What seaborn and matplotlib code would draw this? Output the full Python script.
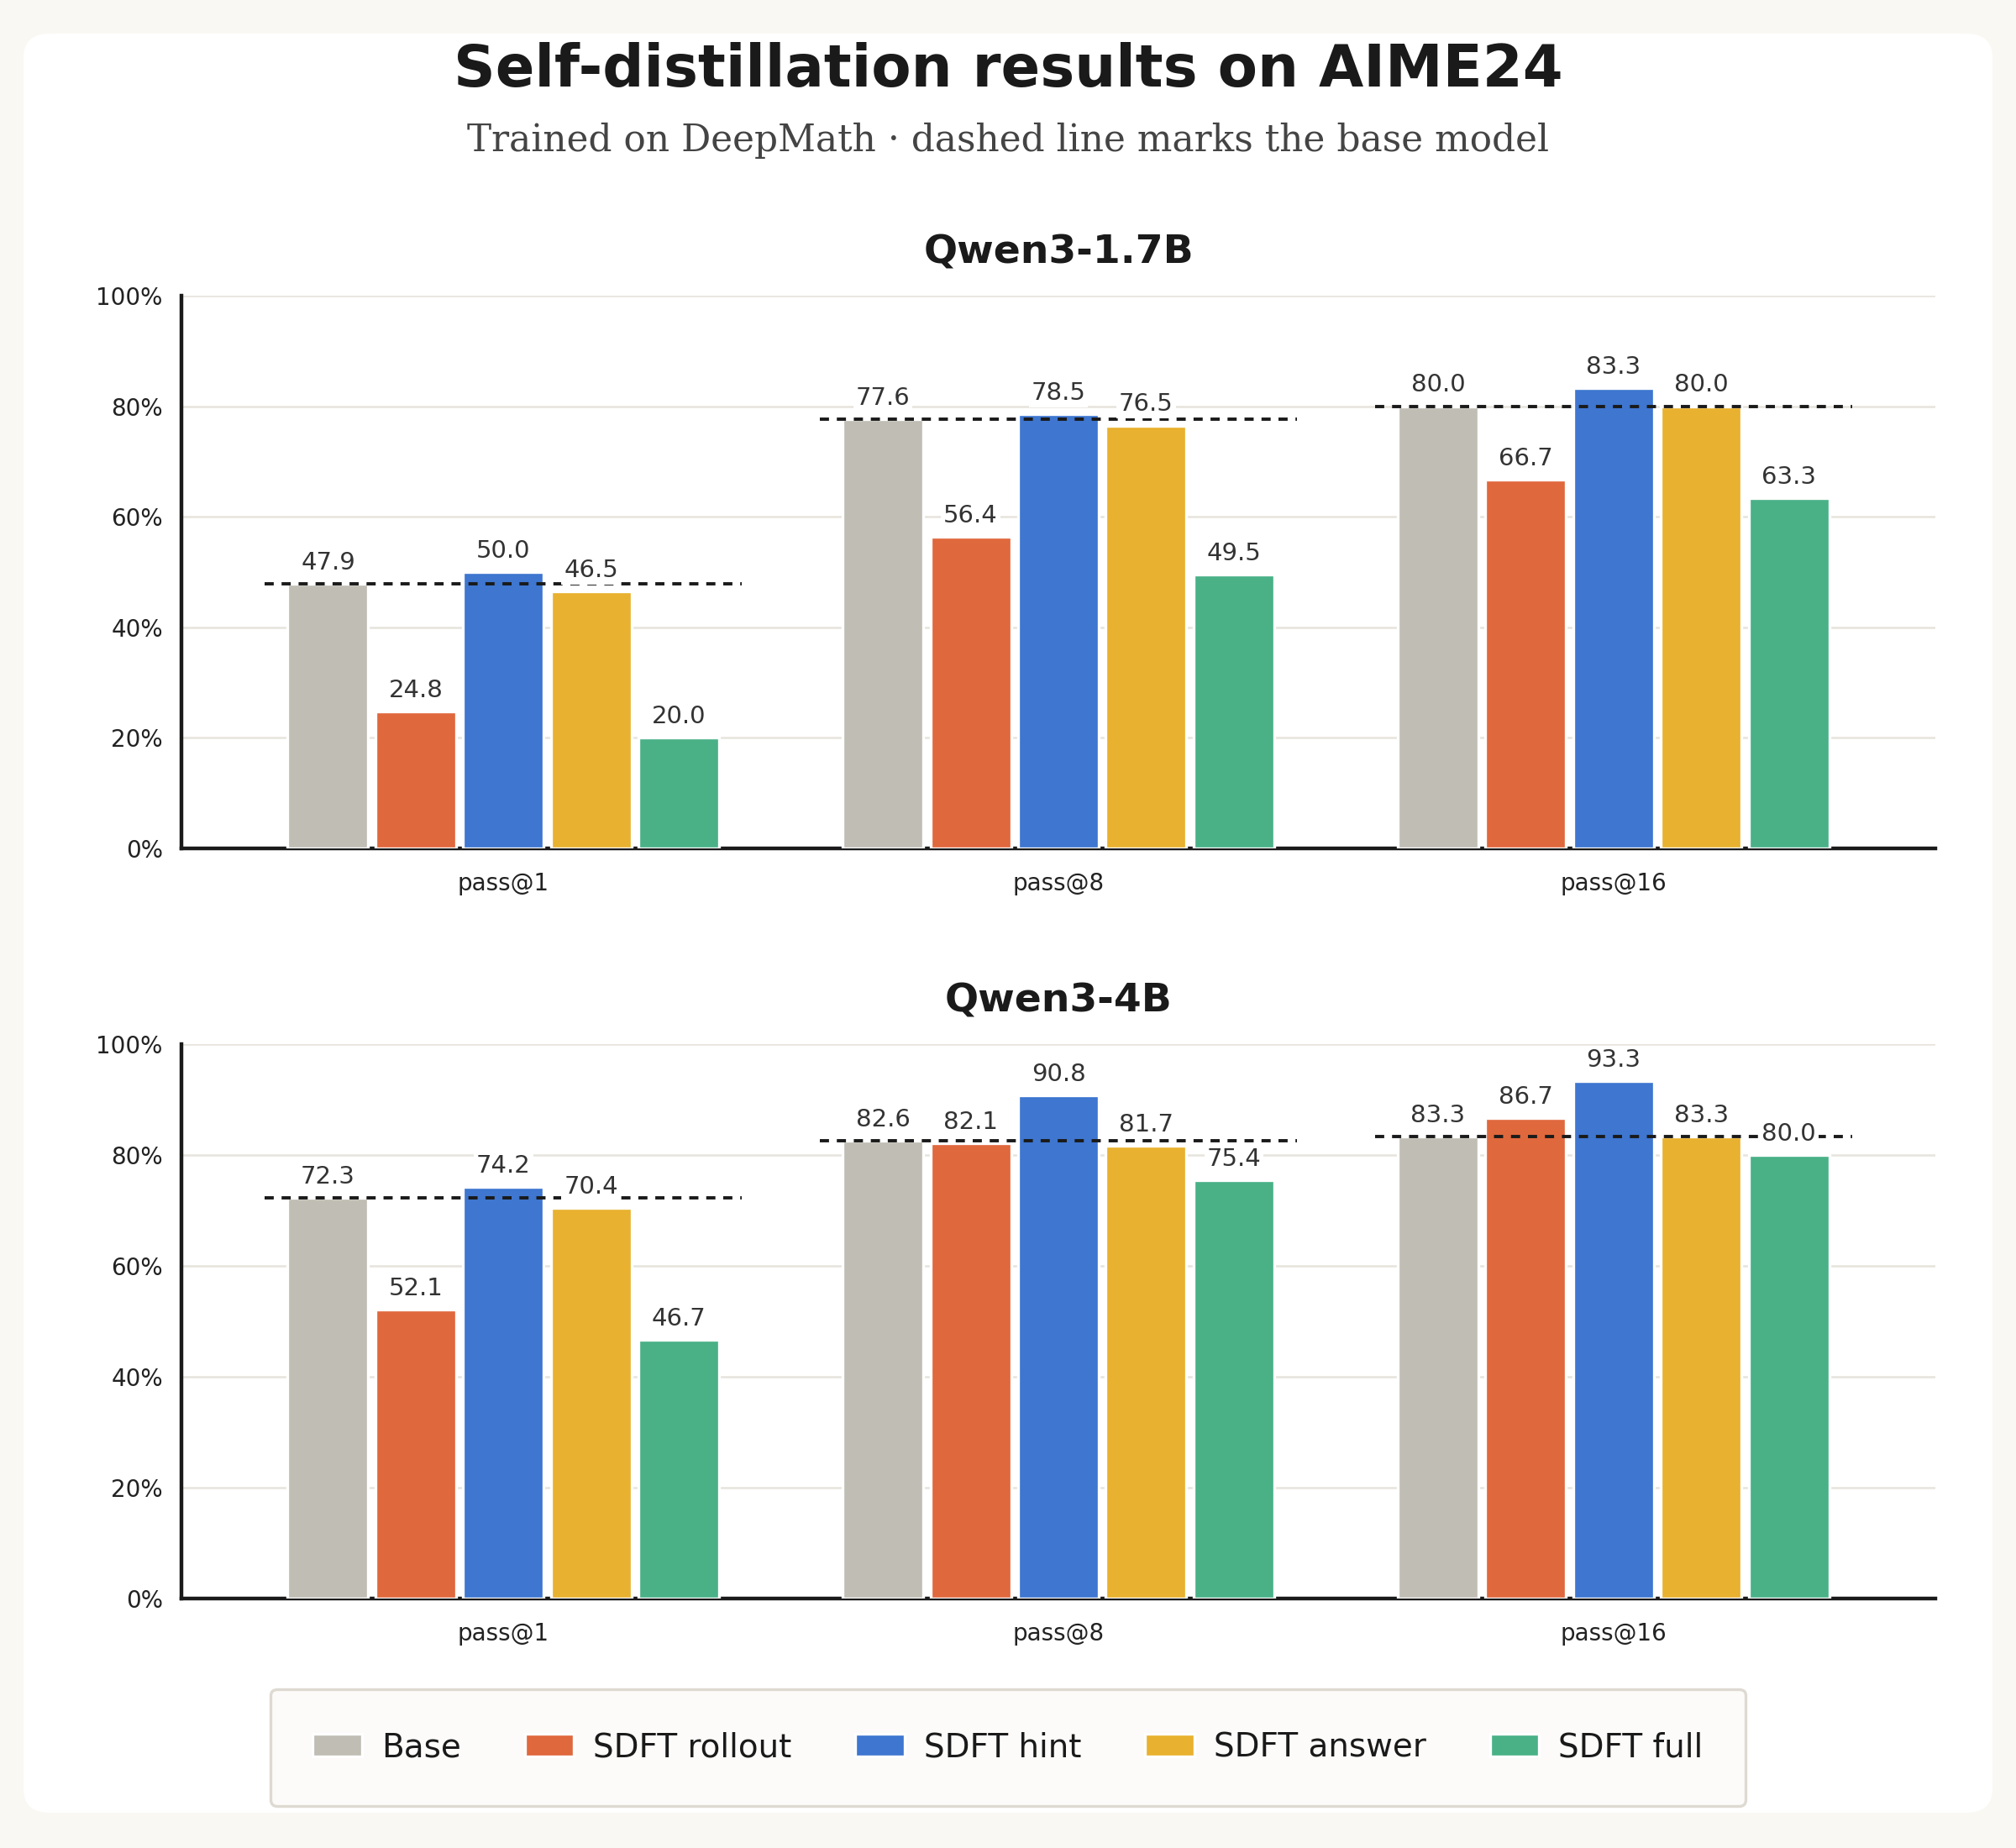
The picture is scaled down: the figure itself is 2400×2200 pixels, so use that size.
import seaborn as sns
import pandas as pd
import matplotlib.pyplot as plt
from matplotlib.patches import FancyBboxPatch
from matplotlib.ticker import PercentFormatter

metrics = ['pass@1', 'pass@8', 'pass@16']
methods = ['Base', 'SDFT rollout', 'SDFT hint', 'SDFT answer', 'SDFT full']
colors = ['#c0bdb4', '#e0683d', '#3e76d0', '#e8b12f', '#4ab187']

# Qwen3-1.7B
small_base = [47.9, 77.6, 80.0]
small_rollout = [24.8, 56.4, 66.7]
small_hint = [50.0, 78.5, 83.3]
small_answer = [46.5, 76.5, 80.0]
small_full = [20.0, 49.5, 63.3]

# Qwen3-4B
big_base = [72.3, 82.6, 83.3]
big_rollout = [52.1, 82.1, 86.7]
big_hint = [74.2, 90.8, 93.3]
big_answer = [70.4, 81.7, 83.3]
big_full = [46.7, 75.4, 80.0]

yticks = [0, 20, 40, 60, 80, 100]


def to_frame(series):
    rows = []
    for name, vals in zip(methods, series):
        for m, v in zip(metrics, vals):
            rows.append({'metric': m, 'method': name, 'score': v})
    return pd.DataFrame(rows)


def panel(ax, series, title):
    df = to_frame(series)
    sns.barplot(data=df, x='metric', y='score', hue='method', order=metrics,
                hue_order=methods, palette=colors, saturation=1, width=0.79,
                gap=0.08, edgecolor='white', linewidth=1.2, errorbar=None,
                ax=ax, zorder=3)
    # dashed line at the base model score
    for i, v in enumerate(series[0]):
        ax.hlines(v, i - 0.43, i + 0.43, colors='#1a1a1a', linewidth=1.4,
                  linestyles=(0, (2.8, 2.4)), zorder=4)
    for cont in ax.containers:
        ax.bar_label(cont, fmt='%.1f', padding=4, fontsize=10.5,
                     color='#333333', zorder=5,
                     bbox=dict(facecolor='white', edgecolor='none', pad=1.0))
    ax.set_xlim(-0.58, 2.58)
    ax.set_ylim(0, 100)
    ax.set_yticks(yticks)
    ax.yaxis.set_major_formatter(PercentFormatter(decimals=0))
    ax.set_xlabel('')
    ax.set_ylabel('')
    ax.set_title(title, fontsize=17, fontweight='bold', color='#1a1a1a', pad=14)
    ax.grid(axis='y', color='#e6e4dc', linewidth=0.9, zorder=0)
    ax.grid(axis='x', visible=False)
    ax.set_axisbelow(True)
    for s in ['top', 'right']:
        ax.spines[s].set_visible(False)
    for s in ['left', 'bottom']:
        ax.spines[s].set_color('#1a1a1a')
        ax.spines[s].set_linewidth(1.6)
        ax.spines[s].set_zorder(2)
    ax.tick_params(axis='x', length=0, pad=10, labelsize=10, labelcolor='#222222')
    ax.tick_params(axis='y', length=0, pad=8, labelsize=10, labelcolor='#222222')
    ax.set_facecolor('white')


sns.set_theme(style='white')
plt.rcParams['font.family'] = ['DejaVu Sans']

fig = plt.figure(figsize=(12, 11), dpi=200)
fig.patch.set_facecolor('#f9f8f3')
card = FancyBboxPatch((28 / 2400, 1 - 2158 / 2200), (2372 - 28) / 2400,
                      (2158 - 40) / 2200, boxstyle='round,pad=0,rounding_size=0.013',
                      transform=fig.transFigure, facecolor='white',
                      edgecolor='none', zorder=-1)
fig.patches.append(card)

ax1 = fig.add_axes([0.09, 0.541, 0.87, 0.299])
ax2 = fig.add_axes([0.09, 0.135, 0.87, 0.300])

panel(ax1, [small_base, small_rollout, small_hint, small_answer, small_full], 'Qwen3-1.7B')
panel(ax2, [big_base, big_rollout, big_hint, big_answer, big_full], 'Qwen3-4B')

handles, labels = ax2.get_legend_handles_labels()
for a in (ax1, ax2):
    if a.get_legend() is not None:
        a.get_legend().remove()

leg = fig.legend(handles, labels, loc='center', bbox_to_anchor=(0.5, 0.0545),
                 ncol=5, fontsize=14, frameon=True, borderpad=1.3,
                 handlelength=1.5, handleheight=0.7, handletextpad=0.6,
                 columnspacing=1.95, fancybox=True)
leg.get_frame().set_facecolor('#fcfbf9')
leg.get_frame().set_edgecolor('#dedad2')
leg.get_frame().set_linewidth(1.2)
leg.get_frame().set_alpha(1)
for t in leg.get_texts():
    t.set_color('#1a1a1a')

fig.text(0.5, 0.962, 'Self-distillation results on AIME24', ha='center', va='center',
         fontsize=24.8, fontweight='bold', color='#1a1a1a')
fig.text(0.5, 0.924, 'Trained on DeepMath \u00b7 dashed line marks the base model',
         ha='center', va='center', fontsize=15.8, color='#444444',
         family=['DejaVu Serif'])

fig.savefig('out.png', dpi=200, facecolor=fig.get_facecolor())
